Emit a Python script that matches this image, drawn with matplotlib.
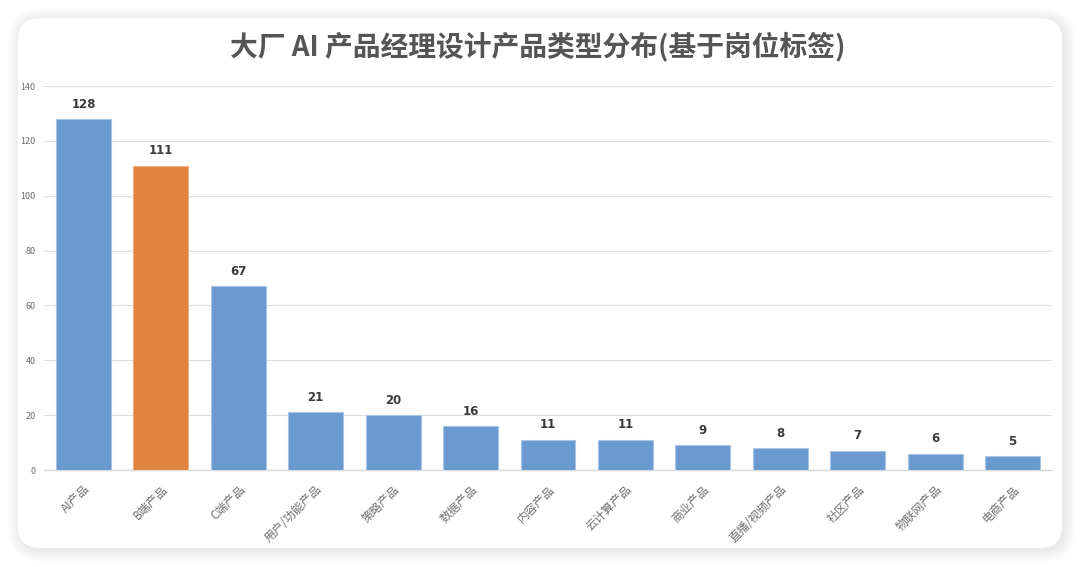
import matplotlib
matplotlib.use("Agg")
import matplotlib.pyplot as plt
from matplotlib.patches import FancyBboxPatch

plt.rcParams['font.family'] = ['Noto Sans CJK SC', 'DejaVu Sans']

categories = ["AI产品", "B端产品", "C端产品", "用户/功能产品", "策略产品", "数据产品", "内容产品",
              "云计算产品", "商业产品", "直播/视频产品", "社区产品", "物联网产品", "电商产品"]
values = [128, 111, 67, 21, 20, 16, 11, 11, 9, 8, 7, 6, 5]
highlight = "B端产品"
title = "大厂 AI 产品经理设计产品类型分布(基于岗位标签)"
yticks = [0, 20, 40, 60, 80, 100, 120, 140]

W, H = 1080, 567
fig = plt.figure(figsize=(W / 100, H / 100), dpi=100)
fig.patch.set_facecolor("white")

# card with soft shadow
x0, y0, x1, y1 = 18 / W, 1 - 548 / H, 1062 / W, 1 - 18 / H
for i in range(10, 0, -1):
    pad = i * 1.2
    sh = FancyBboxPatch((x0 - pad / W + 2 / W, y0 - pad / H - 2 / H),
                        (x1 - x0) + 2 * pad / W, (y1 - y0) + 2 * pad / H,
                        boxstyle=f"round,pad=0,rounding_size={(22 + pad) / W}",
                        transform=fig.transFigure, facecolor="black",
                        edgecolor="none", alpha=0.009, zorder=0,
                        mutation_aspect=W / H)
    fig.patches.append(sh)
card = FancyBboxPatch((x0, y0), x1 - x0, y1 - y0,
                      boxstyle=f"round,pad=0,rounding_size={22 / W}",
                      transform=fig.transFigure, facecolor="white",
                      edgecolor="none", zorder=1, mutation_aspect=W / H)
fig.patches.append(card)

fig.text(538 / W, 1 - 47 / H, title, ha="center", va="center",
         fontsize=20, fontweight="bold", fontstyle="italic", color="#555555")

ax = fig.add_axes([44 / W, 1 - 470 / H, (1052 - 44) / W, (470 - 86) / H])
ax.set_facecolor("none")
ax.set_zorder(2)

colors = ["#e0843f" if c == highlight else "#6a9acf" for c in categories]
edges = ["#f0b080" if c == highlight else "#a8c4e6" for c in categories]
x = list(range(len(categories)))
bars = ax.bar(x, values, width=0.71, color=colors, edgecolor=edges, linewidth=0.8, zorder=3)

for xi, v in zip(x, values):
    ax.annotate(str(v), (xi, v), xytext=(0, 6), textcoords="offset points",
                ha="center", va="bottom", fontsize=8.5, fontweight="bold",
                color="#3a3a3a", family=["DejaVu Sans"])

ax.set_xlim(-0.51, len(categories) - 0.49)
ax.set_ylim(0, 140)
ax.set_yticks(yticks)
ax.set_yticklabels([str(t) for t in yticks], fontsize=6.5, color="#6e6e6e")
ax.grid(axis="y", color="#dedede", linewidth=0.8, zorder=0)
ax.set_axisbelow(True)
for s in ["top", "right", "left"]:
    ax.spines[s].set_visible(False)
ax.spines["bottom"].set_color("#d9d9d9")
ax.spines["bottom"].set_linewidth(1.0)
ax.tick_params(axis="both", length=0)
ax.tick_params(axis="y", pad=6)
ax.tick_params(axis="x", pad=9)
ax.set_xticks(x)
ax.set_xticklabels(categories, rotation=45, ha="right", rotation_mode="anchor",
                   fontsize=8.5, color="#707070")

fig.savefig("out.png", dpi=100)
